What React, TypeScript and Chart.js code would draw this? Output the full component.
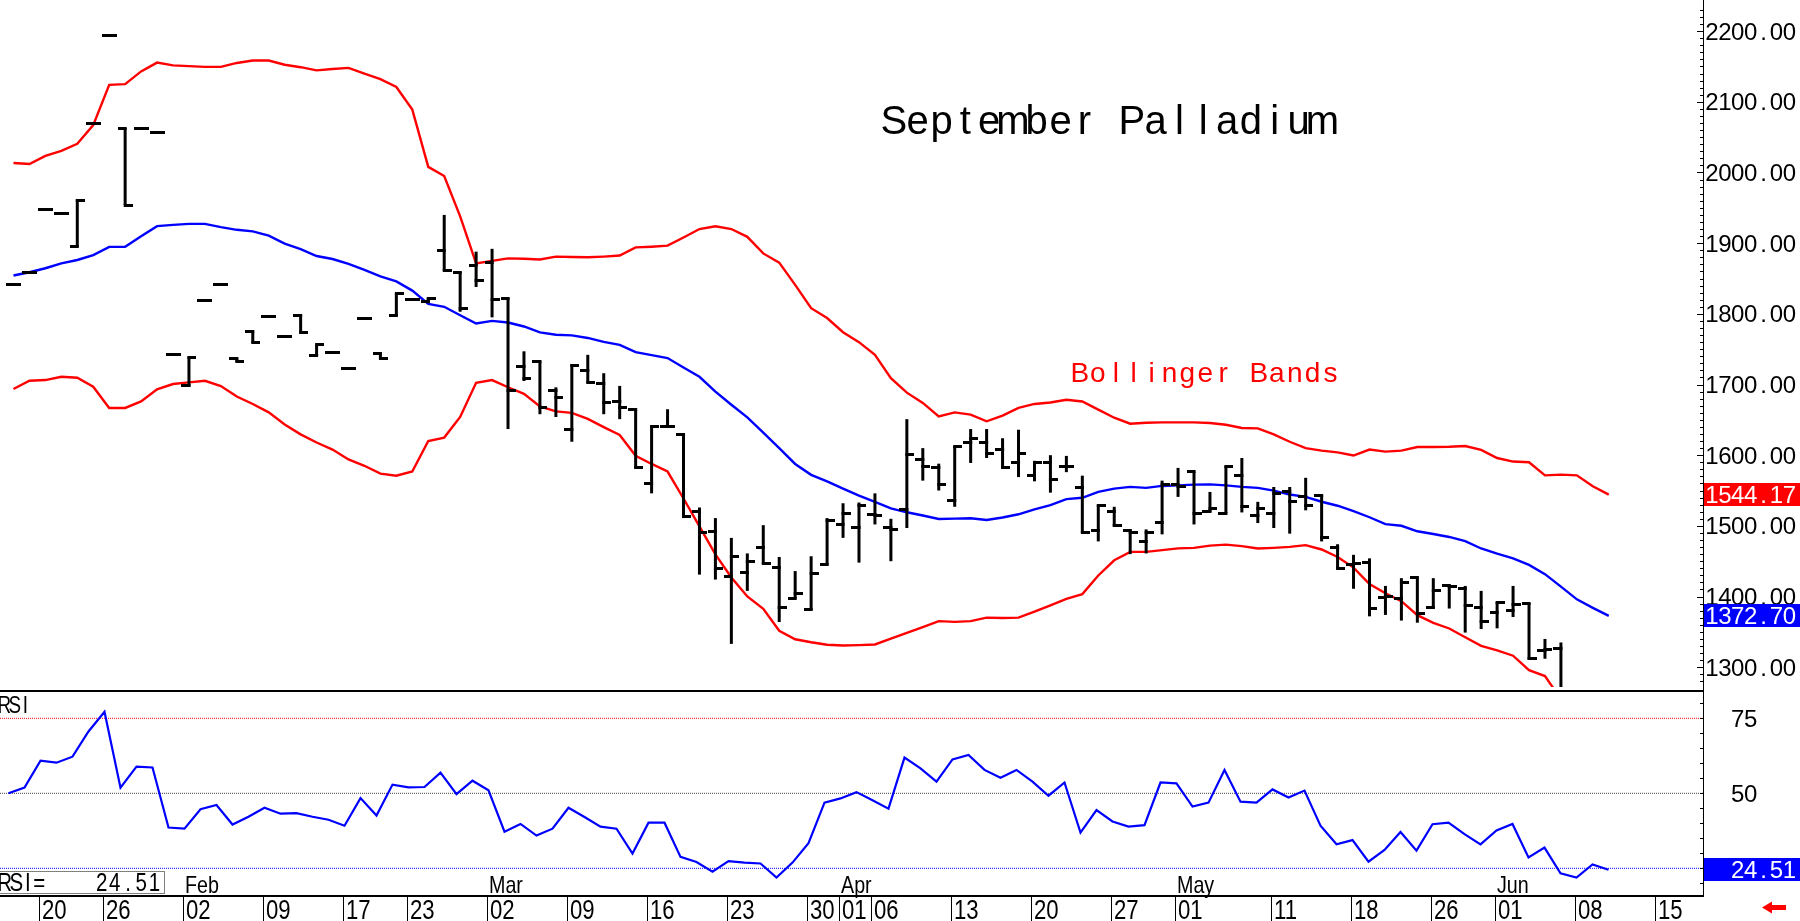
import React, { useEffect, useRef } from "react";
import { Chart, registerables } from "chart.js";

Chart.register(...registerables);

// ---------- data (trading-day index 0..100) ----------
const openPrices = [
  1841, 1858, 1947, 1942, 1895, 2069, 2194, 2062, 2062, 2056,
  1743, 1698, 1819, 1841, 1737, 1775, 1796, 1768, 1797, 1741,
  1746, 1723, 1794, 1744, 1797, 1820, 1818, 1890, 1859, 1868,
  1872, 1822, 1726, 1733, 1692, 1637, 1720, 1701, 1676, 1664,
  1560, 1641, 1629, 1520, 1492, 1429, 1434, 1470, 1441, 1397,
  1381, 1445, 1502, 1497, 1516, 1497, 1523, 1594, 1583, 1536,
  1618, 1618, 1608, 1589, 1571, 1589, 1584, 1554, 1493, 1521,
  1494, 1478, 1505, 1558, 1577, 1520, 1518, 1571, 1515, 1518,
  1549, 1541, 1543, 1469, 1445, 1448, 1399, 1397, 1427, 1384,
  1416, 1411, 1384, 1377, 1380, 1390, 1324, 1326, 1262, 1240,
  1252,
];
const highPrices = [
  1841, 1858, 1947, 1942, 1962, 2069, 2194, 2063, 2062, 2056,
  1743, 1740, 1819, 1841, 1737, 1775, 1796, 1768, 1798, 1756,
  1746, 1723, 1794, 1744, 1829, 1820, 1823, 1940, 1860, 1888,
  1892, 1823, 1747, 1733, 1696, 1729, 1742, 1716, 1698, 1664,
  1642, 1665, 1630, 1526, 1511, 1483, 1461, 1501, 1456, 1436,
  1457, 1511, 1532, 1533, 1546, 1510, 1651, 1610, 1588, 1613,
  1637, 1637, 1624, 1636, 1592, 1600, 1599, 1571, 1530, 1527,
  1495, 1495, 1564, 1582, 1577, 1548, 1585, 1596, 1534, 1555,
  1555, 1568, 1544, 1474, 1459, 1454, 1415, 1426, 1427, 1426,
  1417, 1415, 1408, 1392, 1415, 1391, 1340, 1335, 1268, 1262,
  1266,
];
const lowPrices = [
  1841, 1858, 1947, 1942, 1895, 2069, 2194, 1954, 2062, 2056,
  1743, 1697, 1819, 1841, 1732, 1759, 1796, 1768, 1772, 1740,
  1746, 1723, 1794, 1737, 1797, 1820, 1815, 1861, 1803, 1838,
  1795, 1637, 1705, 1658, 1654, 1619, 1702, 1658, 1651, 1581,
  1546, 1640, 1511, 1431, 1424, 1333, 1408, 1446, 1364, 1397,
  1381, 1444, 1483, 1448, 1502, 1450, 1497, 1564, 1550, 1527,
  1589, 1596, 1581, 1569, 1563, 1547, 1576, 1490, 1478, 1499,
  1460, 1461, 1488, 1541, 1502, 1520, 1518, 1519, 1504, 1497,
  1489, 1522, 1478, 1439, 1411, 1372, 1374, 1366, 1363, 1383,
  1383, 1349, 1354, 1355, 1371, 1311, 1312, 1255, 1238, 1228,
  1236,
];
const closePrices = [
  1841, 1858, 1947, 1942, 1961, 2069, 2194, 1954, 2062, 2056,
  1743, 1738, 1819, 1841, 1732, 1759, 1796, 1768, 1773, 1756,
  1746, 1723, 1794, 1737, 1829, 1820, 1822, 1862, 1808, 1847,
  1820, 1692, 1709, 1668, 1682, 1727, 1703, 1674, 1668, 1583,
  1640, 1641, 1513, 1490, 1440, 1456, 1449, 1447, 1384, 1405,
  1433, 1508, 1517, 1529, 1515, 1495, 1601, 1584, 1559, 1612,
  1624, 1602, 1583, 1602, 1589, 1566, 1584, 1490, 1529, 1501,
  1491, 1491, 1558, 1556, 1518, 1525, 1584, 1527, 1524, 1546,
  1534, 1529, 1483, 1440, 1447, 1383, 1400, 1420, 1376, 1409,
  1414, 1388, 1364, 1391, 1389, 1312, 1325, 1262, 1245, 1255,
  1248,
];
const upperBand = [
  2013.5, 2012, 2023.5, 2030.5, 2040.5, 2067, 2124, 2125, 2143, 2155.5,
  2151.5, 2150.5, 2149.5, 2149.5, 2155, 2158.5, 2158.5, 2152.5, 2149, 2144.5,
  2146.5, 2148, 2140, 2132, 2121, 2089, 2008, 1995, 1938, 1871.5,
  1875, 1878.5, 1878, 1877, 1881, 1880.5, 1880, 1881, 1882.5, 1894,
  1895, 1896.5, 1908, 1920, 1924, 1920, 1909, 1885.5, 1872.5, 1841,
  1808, 1794, 1774, 1760, 1742, 1709, 1688.5, 1674, 1655, 1660.5,
  1657.5, 1648, 1656, 1667, 1672.5, 1674.5, 1678.5, 1676, 1664.5, 1653,
  1644.5, 1646, 1646.5, 1646.5, 1646.5, 1645.5, 1643, 1638.5, 1638, 1629.5,
  1619, 1610, 1606.5, 1604, 1599.5, 1608, 1605, 1606.5, 1611.5, 1611.5,
  1612, 1613, 1607.5, 1596, 1591, 1590, 1571.5, 1572.5, 1571.5, 1556,
  1544.17,
];
const middleBand = [
  1854.3, 1858.9, 1864.5, 1871.5, 1876.2, 1883.2, 1894.8, 1894.8, 1909.7, 1924.1,
  1925.9, 1927.3, 1927.3, 1922.7, 1918.9, 1916.7, 1910.6, 1899.4, 1891.6, 1881.8,
  1877.6, 1870.6, 1862.2, 1852.9, 1845.9, 1832.9, 1814.2, 1810, 1798, 1786.3,
  1790.1, 1787.7, 1782.1, 1773.7, 1770.5, 1769.5, 1765.9, 1760.3, 1756.1, 1745.8,
  1741.6, 1737.4, 1724, 1710.9, 1690, 1671.4, 1653.6, 1631.9, 1609.9, 1587.6,
  1572.2, 1562.9, 1552.7, 1542.9, 1534.1, 1524.8, 1519.2, 1514.6, 1509.8, 1510.3,
  1510.8, 1508.4, 1511.8, 1516.4, 1523.4, 1529.4, 1537.8, 1539.7, 1548.1, 1552.7,
  1555.1, 1553.7, 1556.5, 1557.3, 1558.3, 1558.7, 1557.3, 1555.1, 1553.7, 1549.9,
  1544.3, 1541.1, 1534.1, 1528.5, 1521, 1512.2, 1502.4, 1500.1, 1492.3, 1488.5,
  1484.3, 1478.3, 1468, 1460.6, 1454, 1444.8, 1431.7, 1414.1, 1396, 1384,
  1372.7,
];
const lowerBand = [
  1693.7, 1705.3, 1706.3, 1710.9, 1709.5, 1696.9, 1666.8, 1666.8, 1676, 1693.3,
  1700.7, 1703.1, 1705.3, 1697.9, 1683, 1672.4, 1660.6, 1643.5, 1629.5, 1617.9,
  1608, 1594, 1585, 1574, 1571, 1576.9, 1620.1, 1624.9, 1654.2, 1702.5,
  1706.3, 1696.1, 1686.7, 1669, 1662, 1659.8, 1651.4, 1639.7, 1628.5, 1599.2,
  1587.6, 1576.9, 1538.7, 1499.2, 1459.6, 1427, 1400.1, 1382.7, 1351.6, 1339.5,
  1335.3, 1331.7, 1330.7, 1331.3, 1332.2, 1340.3, 1348.7, 1356.7, 1365.2, 1364.2,
  1365.2, 1370.1, 1369.6, 1370.1, 1378.6, 1387.5, 1396.6, 1403.4, 1429.8, 1451.3,
  1463.2, 1463.2, 1465.7, 1468.2, 1468.8, 1472.1, 1473.5, 1471.3, 1468, 1468.9,
  1470.3, 1472.7, 1466.6, 1455.9, 1441, 1417.7, 1404.7, 1393.5, 1373.6, 1362.8,
  1354.8, 1342.3, 1330.3, 1323.7, 1316.3, 1295.8, 1287.4, 1255, 1235, 1215,
  1201.2,
];
const rsiValues = [
  50, 51.9, 60.9, 60.2, 62.2, 70.6, 77.2, 51.9, 58.9, 58.6,
  38.6, 38.2, 44.7, 46.1, 39.6, 42.2, 45.2, 43.2, 43.4, 42.2,
  41.2, 39.2, 48.4, 42.6, 52.9, 52, 52.1, 56.9, 49.7, 54.2,
  51, 37.2, 39.8, 35.9, 38.2, 45.2, 42.1, 38.9, 38.2, 29.9,
  40.2, 40.2, 28.8, 27.1, 23.9, 27.4, 26.9, 26.6, 21.9, 26.9,
  33.4, 46.9, 48.3, 50.4, 47.7, 44.9, 61.9, 58.3, 53.9, 61.3,
  62.8, 57.8, 55.2, 57.8, 53.9, 49.2, 53.6, 36.9, 44.4, 40.6,
  38.9, 39.4, 53.6, 53.3, 45.6, 46.9, 57.8, 47.2, 46.9, 51.3,
  48.6, 50.9, 39.2, 33, 34.4, 27.2, 31.1, 37.1, 30.9, 39.7,
  40.2, 36.4, 33, 37.6, 39.8, 28.6, 31.9, 23.3, 21.9, 26.3,
  24.51,
];
const priceTicks = [2200, 2100, 2000, 1900, 1800, 1700, 1600, 1500, 1400, 1300];
const rsiTicks = [75, 50];
const rsiLevels = [75, 50, 25];
const dateTickIdx = [-3, 2, 6, 11, 16, 21, 25, 30, 35, 40, 45, 50, 52, 54, 59, 64, 69, 73, 79, 84, 89, 93, 98, 103];
const dateTickLabels = ["12", "20", "26", "02", "09", "17", "23", "02", "09", "16", "23", "30", "01", "06", "13", "20", "27", "01", "11", "18", "26", "01", "08", "15"];
const monthIdx = [11, 30, 52, 73, 93];
const monthLabels = ["Feb", "Mar", "Apr", "May", "Jun"];
const titleText = "September Palladium";
const bandText = "Bollinger Bands";

// ---------- layout constants ----------
const W = 1800;
const AXIS_W = 96;
const AXIS_X = W - AXIS_W; // 1704
const PRICE_H = 692;
const RSI_TOP = 692;
const RSI_H = 229;
const RSI_PLOT_H = 204;
const PX_PER_DAY = 16;
const X_MIN = -8.5 / PX_PER_DAY;
const X_MAX = X_MIN + AXIS_X / PX_PER_DAY;
const PRICE_MIN = 1272;
const PRICE_MAX = 2237;
const RSI_MIN = 15.77;
const RSI_MAX = 83.77;
const RED = "#ff0000";
const BLUE = "#0000ff";
const SANS = '"Liberation Sans", Arial, sans-serif';

function makeTick(left: boolean) {
  const c = document.createElement("canvas");
  c.width = 15;
  c.height = 3;
  const g = c.getContext("2d")!;
  g.fillStyle = "#000";
  if (left) g.fillRect(0, 0, 9, 3);
  else g.fillRect(6, 0, 9, 3);
  return c;
}

function drawCells(ctx: CanvasRenderingContext2D, text: string, x0: number, base: number, cell: number) {
  ctx.textAlign = "center";
  for (let k = 0; k < text.length; k++) {
    ctx.fillText(text[k], x0 + cell * k + cell / 2, base);
  }
}

function drawNarrow(ctx: CanvasRenderingContext2D, text: string, x: number, base: number, size: number, sx = 0.82) {
  ctx.save();
  ctx.translate(x, base);
  ctx.scale(sx, 1);
  ctx.font = `${size}px ${SANS}`;
  ctx.textAlign = "left";
  ctx.fillText(text, 0, 0);
  ctx.restore();
}

function drawNarrowCells(ctx: CanvasRenderingContext2D, text: string, x0: number, base: number, size: number, cell: number) {
  for (let k = 0; k < text.length; k++) {
    ctx.save();
    ctx.translate(x0 + cell * k + cell / 2, base);
    ctx.scale(0.82, 1);
    ctx.font = `${size}px ${SANS}`;
    ctx.textAlign = "center";
    ctx.fillText(text[k], 0, 0);
    ctx.restore();
  }
}

const pricePlugin = {
  id: "priceDeco",
  afterDraw(chart: any) {
    const ctx: CanvasRenderingContext2D = chart.ctx;
    const ys = chart.scales.y;
    ctx.save();
    ctx.fillStyle = "#000";
    ctx.fillRect(0, PRICE_H - 2, AXIS_X, 2);
    ctx.fillRect(AXIS_X - 1, 0, 1, PRICE_H);
    for (let v = 1280; v <= 2230; v += 10) {
      const y = Math.round(ys.getPixelForValue(v));
      const len = v % 100 === 0 ? 6 : 3;
      ctx.fillRect(AXIS_X - 1 - len, y, len, 1);
    }
    ctx.font = `24px ${SANS}`;
    ctx.textBaseline = "alphabetic";
    for (const v of priceTicks) {
      drawCells(ctx, v.toFixed(2), AXIS_X + 1.5, ys.getPixelForValue(v) + 8.6, 12.9);
    }
    const boxes = [
      { v: upperBand[upperBand.length - 1], c: RED },
      { v: middleBand[middleBand.length - 1], c: BLUE },
    ];
    for (const b of boxes) {
      const y = ys.getPixelForValue(b.v);
      ctx.fillStyle = b.c;
      ctx.fillRect(AXIS_X, Math.round(y - 11.5), AXIS_W, 23);
      ctx.fillStyle = "#fff";
      drawCells(ctx, b.v.toFixed(2), AXIS_X + 1.5, y + 8.6, 12.9);
    }
    ctx.fillStyle = "#000";
    ctx.font = `40px ${SANS}`;
    drawCells(ctx, titleText, 882, 134, 23.8);
    ctx.fillStyle = RED;
    ctx.font = `28px ${SANS}`;
    drawCells(ctx, bandText, 1071, 382, 17.9);
    ctx.restore();
  },
};

const rsiPlugin = {
  id: "rsiDeco",
  afterDraw(chart: any) {
    const ctx: CanvasRenderingContext2D = chart.ctx;
    const xs = chart.scales.x;
    const ys = chart.scales.y;
    ctx.save();
    ctx.fillStyle = "#000";
    ctx.fillRect(AXIS_X - 1, 0, 1, RSI_PLOT_H);
    ctx.fillRect(0, RSI_PLOT_H - 1, AXIS_X, 2);
    for (let v = 20; v <= 80; v += 5) {
      const y = Math.round(ys.getPixelForValue(v));
      ctx.fillRect(AXIS_X - 4, y, 3, 1);
    }
    ctx.font = `24px ${SANS}`;
    for (const v of rsiTicks) {
      drawCells(ctx, String(v), AXIS_X + 1.5 + 2 * 12.9, ys.getPixelForValue(v) + 8.6, 12.9);
    }
    const last = rsiValues[rsiValues.length - 1];
    const yl = ys.getPixelForValue(last);
    ctx.fillStyle = BLUE;
    ctx.fillRect(AXIS_X, Math.round(yl - 11.5), AXIS_W, 23);
    ctx.fillStyle = "#fff";
    const lt = last.toFixed(2);
    drawCells(ctx, lt, AXIS_X + 1.5 + (7 - lt.length) * 12.9, yl + 8.6, 12.9);
    ctx.fillStyle = "#fff";
    ctx.fillRect(0, 0, 38, 24);
    ctx.fillStyle = "#000";
    drawNarrowCells(ctx, "RSI", -1, 21, 23, 10.5);
    ctx.fillStyle = "#fff";
    ctx.fillRect(0, 180, 165, 22);
    ctx.strokeStyle = "#808080";
    ctx.lineWidth = 1;
    ctx.strokeRect(-0.5, 179.5, 165, 22);
    ctx.fillStyle = "#000";
    drawNarrowCells(ctx, "RSI=", -1, 199, 25, 11.5);
    drawNarrowCells(ctx, lt, 161 - lt.length * 13.2, 199, 25, 13.2);
    for (let k = 0; k < monthIdx.length; k++) {
      const x = Math.floor(xs.getPixelForValue(monthIdx[k]));
      drawNarrow(ctx, monthLabels[k], x + 1, 201, 24);
    }
    for (let k = 0; k < dateTickIdx.length; k++) {
      const x = Math.floor(xs.getPixelForValue(dateTickIdx[k])) - 1;
      ctx.fillRect(x, RSI_PLOT_H + 1, 1, RSI_H - RSI_PLOT_H - 1);
      drawNarrow(ctx, dateTickLabels[k], x + 3, 227, 27);
    }
    ctx.fillStyle = RED;
    ctx.beginPath();
    ctx.moveTo(1762, 215.5);
    ctx.lineTo(1772, 209.5);
    ctx.lineTo(1772, 213);
    ctx.lineTo(1786, 213);
    ctx.lineTo(1786, 218);
    ctx.lineTo(1772, 218);
    ctx.lineTo(1772, 221.5);
    ctx.closePath();
    ctx.fill();
    ctx.restore();
  },
};

export default function App() {
  const priceRef = useRef<HTMLCanvasElement>(null);
  const rsiRef = useRef<HTMLCanvasElement>(null);

  useEffect(() => {
    const openTick = makeTick(true);
    const closeTick = makeTick(false);
    const days = closePrices.map((_, i) => i);
    const pts = (arr: number[]) => days.map((i) => ({ x: i, y: arr[i] }));
    const bandLine = (arr: number[], color: string) => ({
      type: "line" as const,
      data: pts(arr),
      borderColor: color,
      borderWidth: 2.4,
      pointRadius: 0,
      tension: 0,
      fill: false,
      clip: 0,
    });

    const priceChart = new Chart(priceRef.current!, {
      type: "line",
      data: {
        datasets: [
          {
            type: "bar",
            data: days.map((i) => ({ x: i, y: [lowPrices[i], highPrices[i]] })) as any,
            backgroundColor: "#000",
            borderWidth: 0,
            barThickness: 3,
            inflateAmount: 0,
            clip: 0,
          } as any,
          {
            type: "line",
            data: pts(openPrices),
            showLine: false,
            pointStyle: openTick as any,
            pointRadius: 4,
            pointHoverRadius: 4,
            clip: 0,
          },
          {
            type: "line",
            data: pts(closePrices),
            showLine: false,
            pointStyle: closeTick as any,
            pointRadius: 4,
            pointHoverRadius: 4,
            clip: 0,
          },
          bandLine(middleBand, BLUE),
          bandLine(upperBand, RED),
          bandLine(lowerBand, RED),
        ],
      },
      options: {
        animation: false,
        responsive: false,
        devicePixelRatio: 1,
        events: [],
        layout: { padding: { left: 0, right: AXIS_W, top: 0, bottom: 0 } },
        plugins: { legend: { display: false }, tooltip: { enabled: false }, title: { display: false } },
        scales: {
          x: { type: "linear", min: X_MIN, max: X_MAX, display: false, offset: false },
          y: { type: "linear", min: PRICE_MIN, max: PRICE_MAX, display: false },
        },
      },
      plugins: [pricePlugin],
    });

    const levelColors = [RED, "#404040", BLUE];
    const rsiChart = new Chart(rsiRef.current!, {
      type: "line",
      data: {
        datasets: [
          {
            data: pts(rsiValues),
            borderColor: BLUE,
            borderWidth: 2.2,
            pointRadius: 0,
            tension: 0,
            clip: 0,
          },
          ...rsiLevels.map((lv, k) => ({
            data: [
              { x: X_MIN, y: lv },
              { x: X_MAX, y: lv },
            ],
            borderColor: levelColors[k],
            borderWidth: 1,
            borderDash: [1, 1],
            pointRadius: 0,
            clip: 0,
          })),
        ],
      },
      options: {
        animation: false,
        responsive: false,
        devicePixelRatio: 1,
        events: [],
        layout: { padding: { left: 0, right: AXIS_W, top: 0, bottom: RSI_H - RSI_PLOT_H } },
        plugins: { legend: { display: false }, tooltip: { enabled: false } },
        scales: {
          x: { type: "linear", min: X_MIN, max: X_MAX, display: false, offset: false },
          y: { type: "linear", min: RSI_MIN, max: RSI_MAX, display: false },
        },
      },
      plugins: [rsiPlugin],
    });

    return () => {
      priceChart.destroy();
      rsiChart.destroy();
    };
  }, []);

  return (
    <div style={{ position: "fixed", left: 0, top: 0, width: W, height: 921, background: "#fff", overflow: "hidden" }}>
      <canvas
        ref={priceRef}
        width={W}
        height={PRICE_H}
        style={{ position: "absolute", left: 0, top: 0, width: W, height: PRICE_H }}
      />
      <canvas
        ref={rsiRef}
        width={W}
        height={RSI_H}
        style={{ position: "absolute", left: 0, top: RSI_TOP, width: W, height: RSI_H }}
      />
    </div>
  );
}
